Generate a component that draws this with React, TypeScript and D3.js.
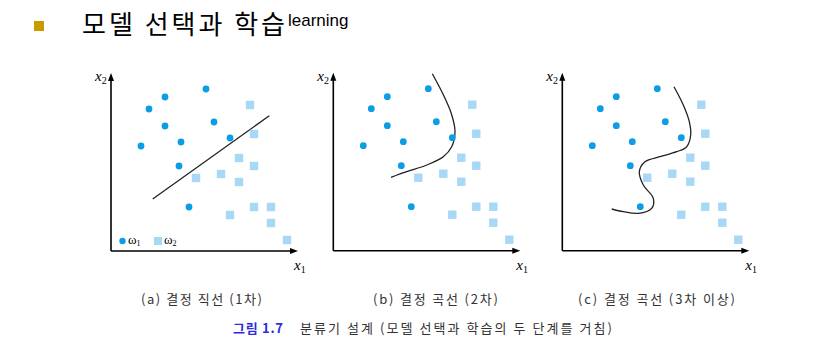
import React, { useEffect, useRef } from 'react';
import * as d3 from 'd3';

// same samples in every panel (x1, x2 in axis units)
const classOne: [number, number][] = [
  [95, 162], [54, 154], [38, 142], [54, 125], [103, 129],
  [30, 105], [70, 109], [119, 113], [68, 85], [78, 44],
];
const classTwo: [number, number][] = [
  [139, 146], [143, 117], [128, 93], [143, 85], [85, 73], [110, 77],
  [128, 69], [143, 44], [160, 44], [119, 36], [160, 28], [176, 11],
];

// decision boundaries
const lineA: [number, number][] = [[41.7, 52], [158.3, 135.3]];
const curveB: [number, number][] = [
  [99, 177], [110, 156], [118.4, 136], [121.7, 119], [118.4, 104],
  [110, 94], [93.4, 85.7], [73.4, 79], [57.7, 73.4],
];
const curveC: [number, number][] = [
  [111.7, 164], [121, 145.7], [127, 129], [128.4, 115.7], [124.4, 104],
  [114.4, 99], [97.7, 94], [82.7, 89], [77, 79], [81, 65.7], [91, 52.4],
  [89.4, 42.4], [76, 37.4], [61, 39], [49.4, 41.7],
];

const captions = ['(a) 결정 직선 (1차)', '(b) 결정 곡선 (2차)', '(c) 결정 곡선 (3차 이상)'];
const boundaries = [lineA, curveB, curveC];
const panelLeft = [111, 333.3, 562.3];
const captionStart = [141, 373, 578];
const captionWidth = [121, 125, 157];

const W = 828;
const H = 361;
const BLUE = '#0b9de6';
const LIGHT = '#a7d8f5';
const KR = '"Noto Sans CJK KR", "Noto Sans", sans-serif';
const SERIF = '"Liberation Serif", "DejaVu Serif", serif';

function drawChart(el: SVGSVGElement) {
  const svg = d3.select(el);
  svg.selectAll('*').remove();

  // title
  svg.append('rect').attr('x', 34).attr('y', 21).attr('width', 10).attr('height', 10).attr('fill', '#c89b00');
  svg
    .append('text')
    .attr('x', 82)
    .attr('y', 34)
    .attr('font-family', KR)
    .attr('font-size', 26)
    .attr('textLength', 203)
    .attr('lengthAdjust', 'spacing')
    .text('모델 선택과 학습');
  svg
    .append('text')
    .attr('x', 288)
    .attr('y', 26)
    .attr('font-family', '"Liberation Sans", Arial, sans-serif')
    .attr('font-size', 17)
    .text('learning');

  const xLen = 187;
  const yLen = 178;

  panelLeft.forEach((ox, p) => {
    const oy = p === 0 ? 251 : 250.7;
    const x = d3.scaleLinear().domain([0, xLen]).range([ox, ox + xLen]);
    const y = d3.scaleLinear().domain([0, yLen]).range([oy, oy - yLen]);
    const g = svg.append('g');

    // axes
    g.append('line')
      .attr('x1', x(0)).attr('y1', y(0)).attr('x2', x(xLen) - 4).attr('y2', y(0))
      .attr('stroke', '#000').attr('stroke-width', 1.6);
    g.append('line')
      .attr('x1', x(0)).attr('y1', y(0)).attr('x2', x(0)).attr('y2', y(yLen) + 4)
      .attr('stroke', '#000').attr('stroke-width', 1.6);
    g.append('path')
      .attr('d', `M${x(xLen)},${y(0)} l-8,-3 l0,6 z`)
      .attr('fill', '#000');
    g.append('path')
      .attr('d', `M${x(0)},${y(yLen)} l-3,8 l6,0 z`)
      .attr('fill', '#000');

    // axis labels
    const lx2 = g.append('text')
      .attr('x', x(0) - 16).attr('y', y(yLen) + 8)
      .attr('font-family', SERIF).attr('font-style', 'italic').attr('font-size', 15);
    lx2.append('tspan').text('x');
    lx2.append('tspan').attr('font-size', 10).attr('dy', 3).attr('font-style', 'normal').text('2');
    const lx1 = g.append('text')
      .attr('x', x(xLen) - 4).attr('y', y(0) + 19)
      .attr('font-family', SERIF).attr('font-style', 'italic').attr('font-size', 15);
    lx1.append('tspan').text('x');
    lx1.append('tspan').attr('font-size', 10).attr('dy', 3).attr('font-style', 'normal').text('1');

    // boundary
    const line = d3
      .line<[number, number]>()
      .x((d) => x(d[0]))
      .y((d) => y(d[1]))
      .curve(d3.curveCatmullRom.alpha(0.5));
    g.append('path')
      .attr('d', line(boundaries[p]))
      .attr('fill', 'none')
      .attr('stroke', '#222')
      .attr('stroke-width', 1.3);

    // samples
    g.selectAll('circle.c1')
      .data(classOne)
      .join('circle')
      .attr('cx', (d) => x(d[0]))
      .attr('cy', (d) => y(d[1]))
      .attr('r', 3.4)
      .attr('fill', BLUE);
    g.selectAll('rect.c2')
      .data(classTwo)
      .join('rect')
      .attr('x', (d) => x(d[0]) - 4.2)
      .attr('y', (d) => y(d[1]) - 4.2)
      .attr('width', 8.4)
      .attr('height', 8.4)
      .attr('fill', LIGHT);

    // legend only in the first panel
    if (p === 0) {
      g.append('circle').attr('cx', 122.5).attr('cy', 241).attr('r', 3.2).attr('fill', BLUE);
      const w1 = g.append('text').attr('x', 128).attr('y', 244).attr('font-family', SERIF).attr('font-size', 13);
      w1.append('tspan').text('ω');
      w1.append('tspan').attr('font-size', 8).attr('dy', 2).text('1');
      g.append('rect').attr('x', 154).attr('y', 237).attr('width', 8).attr('height', 8).attr('fill', LIGHT);
      const w2 = g.append('text').attr('x', 164).attr('y', 244).attr('font-family', SERIF).attr('font-size', 13);
      w2.append('tspan').text('ω');
      w2.append('tspan').attr('font-size', 8).attr('dy', 2).text('2');
    }

    svg
      .append('text')
      .attr('x', captionStart[p])
      .attr('y', 304)
      .attr('font-family', KR)
      .attr('font-size', 13)
      .attr('textLength', captionWidth[p])
      .attr('lengthAdjust', 'spacing')
      .attr('fill', '#333')
      .text(captions[p]);
  });

  // figure caption
  svg
    .append('text')
    .attr('x', 233)
    .attr('y', 333)
    .attr('font-family', KR)
    .attr('font-size', 13)
    .attr('font-weight', 'bold')
    .attr('fill', '#2b2be0')
    .attr('textLength', 50)
    .attr('lengthAdjust', 'spacing')
    .text('그림 1.7');
  svg
    .append('text')
    .attr('x', 300)
    .attr('y', 333)
    .attr('font-family', KR)
    .attr('font-size', 13)
    .attr('fill', '#333')
    .attr('textLength', 312)
    .attr('lengthAdjust', 'spacing')
    .text('분류기 설계 (모델 선택과 학습의 두 단계를 거침)');
}

export default function App() {
  const ref = useRef<SVGSVGElement>(null);
  useEffect(() => {
    if (ref.current) drawChart(ref.current);
  }, []);
  return (
    <svg
      ref={ref}
      width={W}
      height={H}
      style={{ position: 'absolute', left: 0, top: 0, background: '#fff' }}
    />
  );
}
